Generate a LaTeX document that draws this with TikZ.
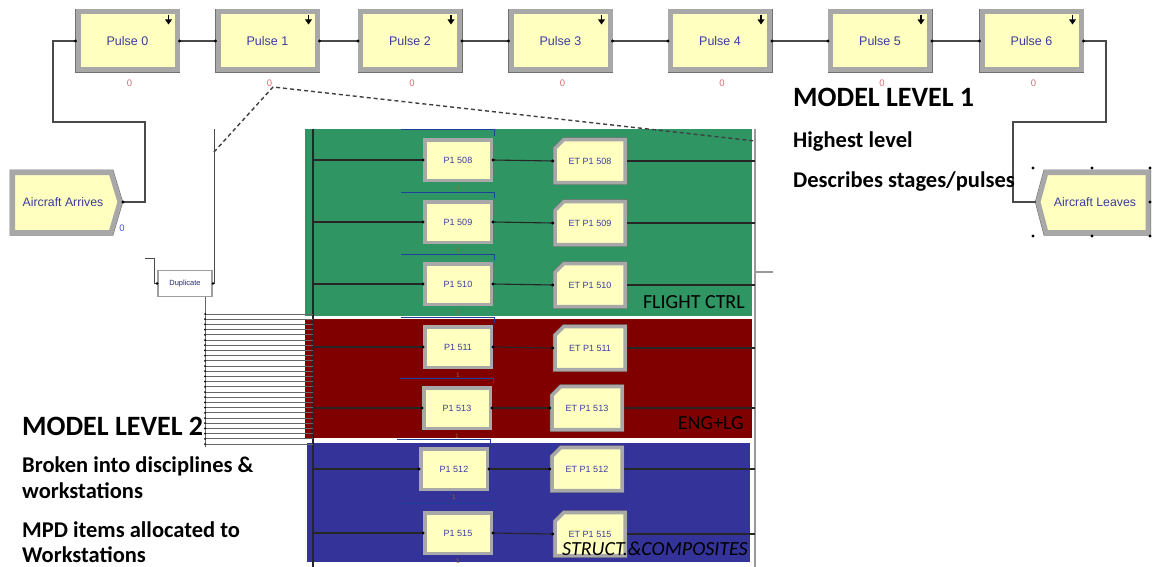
\documentclass[tikz,border=0pt]{standalone}
\usepackage{fontspec}
\setmainfont{Carlito}
\newfontfamily\arialf{Liberation Sans}
\usetikzlibrary{calc}
\definecolor{yfill}{HTML}{FFFFC0}
\definecolor{bevel}{HTML}{A8A8A8}
\definecolor{rim}{HTML}{707070}
\definecolor{modtxt}{HTML}{3C3CA0}
\definecolor{grn}{HTML}{2E9563}
\definecolor{dred}{HTML}{800000}
\definecolor{dblue}{HTML}{333399}
\definecolor{conn}{HTML}{4A4A4A}
\definecolor{qblue}{HTML}{1F3F9F}
\definecolor{zred}{HTML}{D07070}
\begin{document}
\begin{tikzpicture}[x=1pt,y=-1pt,
  pulse/.style={rectangle, fill=yfill, draw=bevel, line width=5pt,
    preaction={draw=rim, line width=6pt}, minimum width=99pt, minimum height=58pt,
    inner sep=0pt, font=\arialf\fontsize{12.5}{14}\selectfont, text=modtxt},
  proc/.style={rectangle, fill=yfill, draw=bevel, line width=3.5pt,
    preaction={draw=rim, line width=4.3pt}, minimum width=66.5pt, minimum height=40.5pt,
    inner sep=0pt, font=\arialf\fontsize{9}{10}\selectfont, text=modtxt},
  etshape/.style={fill=yfill, draw=bevel, line width=3.5pt, line join=miter,
    preaction={draw=rim, line width=4.3pt}},
  ettext/.style={inner sep=0pt, minimum width=74pt, minimum height=46pt,
    font=\arialf\fontsize{9}{10}\selectfont, text=modtxt},
  termshape/.style={fill=yfill, draw=bevel, line width=5pt, line join=miter,
    preaction={draw=rim, line width=6pt}},
  termtext/.style={inner sep=0pt, font=\arialf\fontsize{12.3}{14}\selectfont, text=modtxt},
  dupbox/.style={rectangle, fill=white, draw=gray!75, line width=1.8pt,
    minimum width=54pt, minimum height=26pt, inner sep=0pt,
    font=\arialf\fontsize{7.5}{8}\selectfont, text=modtxt!70!black},
  link/.style={draw=conn, line width=1.3pt},
  rowlink/.style={draw=black!85, line width=1.1pt},
  bundle/.style={draw=black!60, line width=0.8pt},
  qline/.style={draw=qblue, line width=1pt},
  zero/.style={inner sep=0pt, font=\arialf\fontsize{9.5}{10}\selectfont, text=zred},
  onemark/.style={inner sep=0pt, font=\arialf\fontsize{6.5}{7}\selectfont, text=brown!80!black},
  bigtxt/.style={font=\bfseries\fontsize{28}{30}\selectfont, anchor=base west, inner sep=0pt},
  subtxt/.style={font=\bfseries\fontsize{22.5}{24}\selectfont, anchor=base west, inner sep=0pt},
  bandlbl/.style={font=\fontsize{20}{22}\selectfont, anchor=base east, inner sep=0pt, text=black},
  zoomline/.style={draw=black!75, line width=1.4pt, dash pattern=on 4pt off 3pt}
]
\useasboundingbox (0,0) rectangle (1153,567);

% ---------- colour bands ----------
\fill[grn]  (305,129) rectangle (752,316);
\fill[dred] (305,319) rectangle (752,438);
\fill[dblue] (307,443) rectangle (750,562);

% frame lines of the sub-model
\coordinate (ltop) at (313,129);
\coordinate (lbot) at (313,567);
\draw[black!85, line width=1.2pt] (ltop) -- (lbot);
\coordinate (rtop) at (755,129);
\coordinate (rbot) at (755,567);
\draw[gray!80, line width=1.5pt] (rtop) -- (rbot);
\coordinate (rstub) at (773,272);
\draw[gray!80, line width=1.2pt] (755,272) -- (rstub);

% ---------- Level 2 rows ----------
\foreach \n/\px/\py/\ex/\ey/\lab in {
  a/458/160/590/161/508, b/458/222/590/223/509, c/458/284/590/285/510,
  d/458/347/590/348/511, e/457/408/587/408/513,
  f/454/469/587/469/512, g/458/533/590/534/515}{
  \draw[qline] ({\px-57},{\py-30}) -- ({\px+36},{\py-30}) -- ({\px+36},{\py-24});
  \path[etshape] ({\ex-26},{\ey-21.5}) -- ({\ex+35},{\ey-21.5}) -- ({\ex+35},{\ey+21.5})
     -- ({\ex-35},{\ey+21.5}) -- ({\ex-35},{\ey-12.5}) -- cycle;
  \node[ettext] (E\n) at (\ex,\ey) {ET P1 \lab};
  \node[proc] (P\n) at (\px,\py) {P1 \lab};
  \node[onemark] (m\n) at (\px,{\py+28}) {1};
  \coordinate (L\n) at (313,\py);
  \coordinate (R\n) at (755,\ey);
  \draw[rowlink] (L\n) -- (P\n.west);
  \draw[rowlink] (P\n.east) -- (E\n.west);
  \draw[rowlink] (E\n.east) -- (R\n);
  \fill (P\n.west) circle (1.6) (P\n.east) circle (1.6) (E\n.west) circle (1.6);
}

% ---------- band labels ----------
\node[bandlbl] (lfc) at (745,308) {FLIGHT CTRL};
\node[bandlbl] (leng) at (744,429) {ENG+LG};
\node[bandlbl, font=\itshape\fontsize{20}{22}\selectfont] (lstr) at (748,555) {STRUCT.\&COMPOSITES};

% ---------- Level 1 pulses ----------
\foreach \i/\x in {0/127.5,1/267.5,2/410,3/560.5,4/720,5/880,6/1031.5}{
  \node[pulse] (p\i) at (\x,41) {Pulse \i};
  \node[zero] (z\i) at ({\x+2},83) {0};
  \draw[black, line width=1.8pt] ($(p\i.north east)+(-11,6)$) -- ++(0,5);
  \fill[black] ($(p\i.north east)+(-14.5,10)$) -- ++(7,0) -- ++(-3.5,5) -- cycle;
}
\foreach \a/\b in {0/1,1/2,2/3,3/4,4/5,5/6}{
  \draw[link] (p\a.east) -- (p\b.west);
  \fill (p\a.east) circle (1.7) (p\b.west) circle (1.7);
}

% ---------- Aircraft Arrives ----------
\path[termshape] (12.5,172.5) -- (111,172.5) -- (120,202) -- (111,232.5) -- (12.5,232.5) -- cycle;
\node[termtext] (arr) at (63,202) {Aircraft Arrives};
\coordinate (arrout) at (123,202);
\node[zero, text=blue!70] (arrz) at (122,228) {0};
\draw[link] (arrout) -- (145,202) -- (145,122) -- (53,122) |- (p0.west);
\fill (arrout) circle (1.7) (p0.west) circle (1.7);

% ---------- Aircraft Leaves ----------
\path[termshape] (1038,202) -- (1046,172.5) -- (1148,172.5) -- (1148,232.5) -- (1046,232.5) -- cycle;
\node[termtext] (lea) at (1095,202) {Aircraft Leaves};
\coordinate (leain) at (1036,202);
\draw[link] (p6.east) -- (1106,41) -- (1106,122) -- (1013,122) |- (leain);
\fill (p6.east) circle (1.7);
\foreach \hx/\hy in {1033/168,1092/168,1150/168,1033/236,1092/236,1150/236,1150/202}{
  \fill (\hx,\hy) circle (1.6);
}

% ---------- Duplicate ----------
\node[dupbox] (dup) at (185,283.5) {Duplicate};
\coordinate (dupin) at (145,258);
\draw[link, line width=1pt] (dupin) -- (154,258) |- (dup.west);
\coordinate (duptop) at (214,129);
\draw[link, line width=1pt] (duptop) |- (dup.east);
\fill (dup.west) circle (1.4) (dup.east) circle (1.4);
\coordinate (dupbot) at (205,297);
\coordinate (bundlebot) at (205,447);
\draw[bundle, line width=1pt] (dupbot) -- (bundlebot);
\foreach \k in {0,...,25}{
  \pgfmathsetmacro{\yy}{314+5.2*\k}
  \coordinate (bs\k) at (205,\yy);
  \coordinate (be\k) at (313,\yy);
  \draw[bundle] (bs\k) -- (be\k);
  \fill (bs\k) circle (1);
}

% ---------- zoom dashed lines ----------
\coordinate (zsrc) at (273,87);
\coordinate (zl) at (214,152);
\coordinate (zr) at (755,141);
\draw[zoomline] (zl) -- (zsrc) -- (zr);

% ---------- texts ----------
\node[bigtxt] (t1) at (793,107) {MODEL LEVEL 1};
\node[subtxt] (t1a) at (793,147) {Highest level};
\node[subtxt] (t1b) at (793,187) {Describes stages/pulses};
\node[bigtxt] (t2) at (22,435) {MODEL LEVEL 2};
\node[subtxt] (t2a) at (22,472) {Broken into disciplines \&};
\node[subtxt] (t2b) at (22,498) {workstations};
\node[subtxt] (t2c) at (22,537) {MPD items allocated to};
\node[subtxt] (t2d) at (22,562) {Workstations};
\end{tikzpicture}
\end{document}
